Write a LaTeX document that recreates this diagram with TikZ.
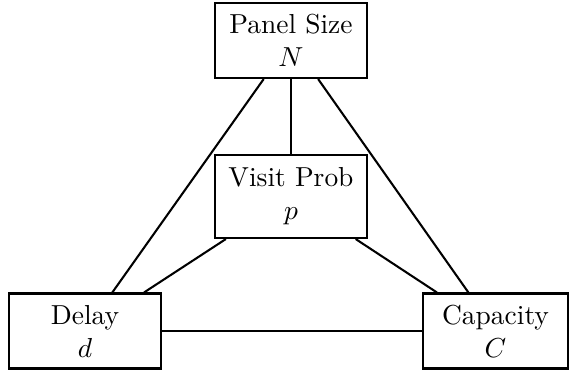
\documentclass[tikz,border=0pt]{standalone}
\begin{document}
\begin{tikzpicture}[x=0.364pt,y=-0.364pt,
  box/.style={draw,line width=0.75pt,rectangle,align=center,inner sep=0pt,
    minimum width=55.3pt,minimum height=27.3pt},
  link/.style={line width=0.75pt}]
\useasboundingbox (0,0) rectangle (570,374);
\node[box] (N) at (291,40.5) {Panel Size\\$N$};
\node[box,minimum height=30.2pt] (p) at (291,196.5) {Visit Prob\\$p$};
\node[box] (d) at (85,331) {Delay\\$d$};
\node[box,minimum width=52.8pt] (C) at (495.5,331) {Capacity\\$C$};
\draw[link] (N) -- (p);
\draw[link] (N) -- (d);
\draw[link] (N) -- (C);
\draw[link] (p) -- (d);
\draw[link] (p) -- (C);
\draw[link] (d) -- (C);
\end{tikzpicture}
\end{document}
